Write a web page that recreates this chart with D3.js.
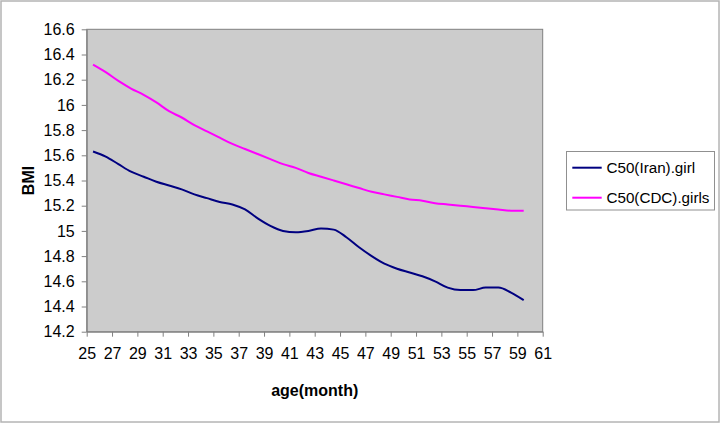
<!DOCTYPE html>
<html>
<head>
<meta charset="utf-8">
<script src="https://cdn.jsdelivr.net/npm/d3@7"></script>
<style>
  body { margin: 0; background: #fff; }
  svg { display: block; font-family: Arial, "Liberation Sans", sans-serif; }
</style>
</head>
<body>
<svg id="chart"></svg>
<script>
var width = 720;
var height = 423;

// age in months (mid-month points)
var months = [25.5, 26.5, 27.5, 28.5, 29.5, 30.5, 31.5, 32.5, 33.5, 34.5,
              35.5, 36.5, 37.5, 38.5, 39.5, 40.5, 41.5, 42.5, 43.5, 44.5,
              45.5, 46.5, 47.5, 48.5, 49.5, 50.5, 51.5, 52.5, 53.5, 54.5,
              55.5, 56.5, 57.5, 58.5, 59.5];

var iranGirl = [15.63, 15.59, 15.53, 15.47, 15.43, 15.39, 15.36, 15.33, 15.29, 15.26,
                15.23, 15.21, 15.17, 15.10, 15.04, 15.00, 14.99, 15.00, 15.02, 15.01,
                14.95, 14.87, 14.80, 14.74, 14.70, 14.67, 14.64, 14.60, 14.55, 14.53,
                14.53, 14.55, 14.55, 14.51, 14.45];

var cdcGirls = [16.32, 16.26, 16.19, 16.13, 16.08, 16.02, 15.95, 15.90, 15.84, 15.79,
                15.74, 15.69, 15.65, 15.61, 15.57, 15.53, 15.50, 15.46, 15.43, 15.40,
                15.37, 15.34, 15.31, 15.29, 15.27, 15.25, 15.24, 15.22, 15.21, 15.20,
                15.19, 15.18, 15.17, 15.16, 15.16];

var xTicks = d3.range(25, 62, 2);
var yTicks = [14.2, 14.4, 14.6, 14.8, 15, 15.2, 15.4, 15.6, 15.8, 16, 16.2, 16.4, 16.6];

var seriesNames = ["C50(Iran).girl", "C50(CDC).girls"];
var seriesColors = ["#000080", "#ff00ff"];

var plot = {left: 86.7, right: 542.7, top: 29.3, bottom: 331.7};

var xScale = d3.scaleLinear()
                .domain([25, 61])
                .range([plot.left, plot.right]);
var yScale = d3.scaleLinear()
                .domain([14.2, 16.6])
                .range([plot.bottom, plot.top]);

var svg = d3.select("#chart")
    .attr("width", width)
    .attr("height", height);

// outer chart border
svg.append("rect")
    .attr("x", 1).attr("y", 1)
    .attr("width", width - 2).attr("height", height - 2)
    .attr("fill", "#fff")
    .attr("stroke", "#b4b4b4")
    .attr("stroke-width", 1.5);

// plot area
svg.append("rect")
    .attr("x", plot.left).attr("y", plot.top)
    .attr("width", plot.right - plot.left)
    .attr("height", plot.bottom - plot.top)
    .attr("fill", "#cccccc")
    .attr("stroke", "#808080")
    .attr("stroke-width", 1);

var xAxis = d3.axisBottom(xScale)
                .tickValues(xTicks)
                .tickSize(5)
                .tickSizeOuter(0)
                .tickPadding(11)
                .tickFormat(d3.format("d"));

var yAxis = d3.axisLeft(yScale)
                .tickValues(yTicks)
                .tickSize(5)
                .tickSizeOuter(0)
                .tickPadding(7)
                .tickFormat(d => String(+d.toFixed(1)));

var gx = svg.append("g")
    .attr("transform", `translate(0, ${plot.bottom})`)
    .call(xAxis);
var gy = svg.append("g")
    .attr("transform", `translate(${plot.left}, 0)`)
    .call(yAxis);

[gx, gy].forEach(function(g){
    g.select(".domain").attr("stroke", "#808080");
    g.selectAll(".tick line").attr("stroke", "#808080");
    g.selectAll(".tick text")
        .attr("fill", "#000")
        .style("font-size", "16px")
        .style("font-family", "Arial, 'Liberation Sans', sans-serif");
});

// lines
var line = d3.line()
    .x((d, i) => xScale(months[i]))
    .y(d => yScale(d))
    .curve(d3.curveMonotoneX);

[iranGirl, cdcGirls].forEach(function(series, k){
    svg.append("path")
        .datum(series)
        .attr("d", line)
        .attr("fill", "none")
        .attr("stroke", seriesColors[k])
        .attr("stroke-width", 2);
});

// axis titles
svg.append("text")
    .attr("x", (plot.left + plot.right) / 2)
    .attr("y", 396)
    .attr("text-anchor", "middle")
    .style("font-size", "16px")
    .style("font-weight", "bold")
    .text("age(month)");

svg.append("text")
    .attr("transform", `translate(34, ${(plot.top + plot.bottom) / 2}) rotate(-90)`)
    .attr("text-anchor", "middle")
    .style("font-size", "16px")
    .style("font-weight", "bold")
    .text("BMI");

// legend
var legend = svg.append("g");
legend.append("rect")
    .attr("x", 566.5).attr("y", 151.5)
    .attr("width", 148).attr("height", 58.5)
    .attr("fill", "#fff")
    .attr("stroke", "#909090")
    .attr("stroke-width", 1);

seriesNames.forEach(function(name, k){
    var cy = 167.7 + k * 30;
    legend.append("line")
        .attr("x1", 572.3).attr("x2", 601.7)
        .attr("y1", cy).attr("y2", cy)
        .attr("stroke", seriesColors[k])
        .attr("stroke-width", 2);
    legend.append("text")
        .attr("x", 606.5)
        .attr("y", cy + 5.5)
        .style("font-size", "15.2px")
        .text(name);
});
</script>
</body>
</html>
